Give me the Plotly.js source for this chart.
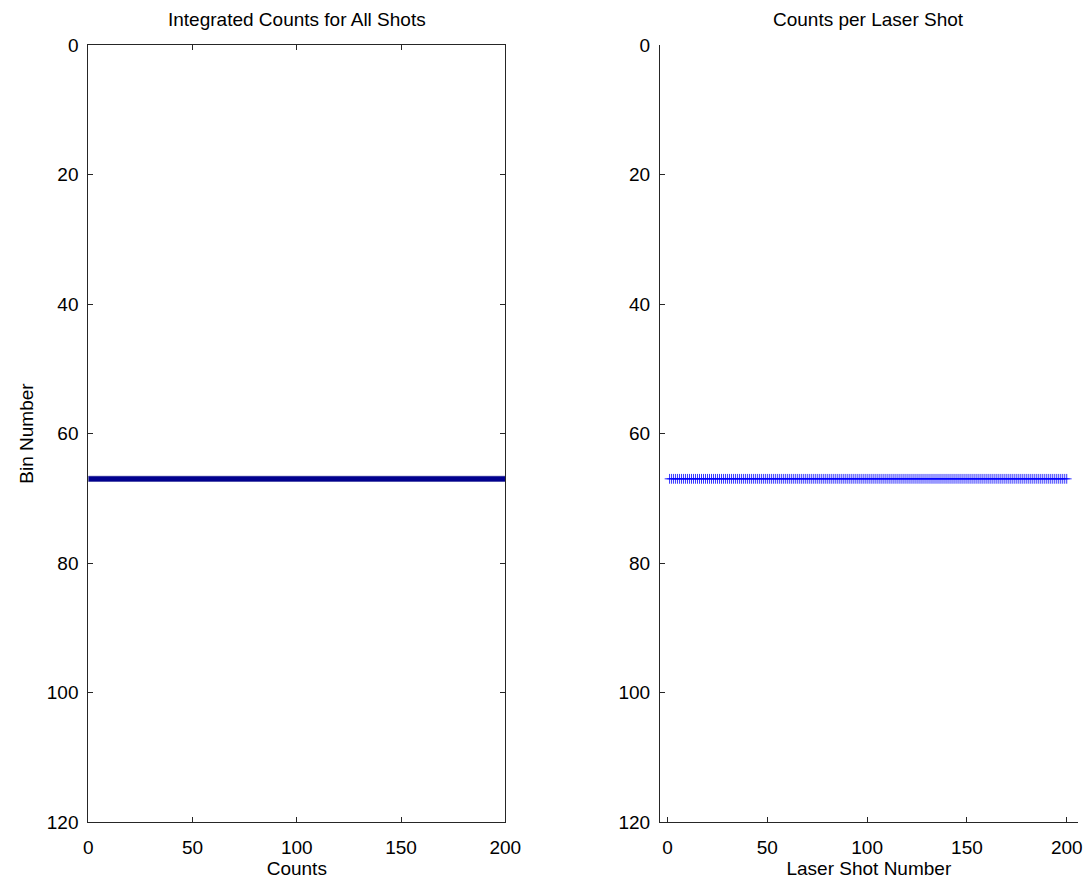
<!DOCTYPE html>
<html>
<head>
<meta charset="utf-8">
<script src="https://cdn.plot.ly/plotly-3.0.1.min.js"></script>
<style>html,body{margin:0;padding:0;background:#fff;}#chart{width:1089px;height:888px;}</style>
</head>
<body>
<div id="chart"></div>
<script>
// Left panel: integrated counts per bin (only bin 67 has counts)
const integratedBins = [67];
const integratedCounts = [200];

// Right panel: bin number hit on each laser shot
const shotNumbers = [1,2,3,4,5,6,7,8,9,10,11,12,13,14,15,16,17,18,19,20,21,22,23,24,25,26,27,28,29,30,31,32,33,34,35,36,37,38,39,40,41,42,43,44,45,46,47,48,49,50,51,52,53,54,55,56,57,58,59,60,61,62,63,64,65,66,67,68,69,70,71,72,73,74,75,76,77,78,79,80,81,82,83,84,85,86,87,88,89,90,91,92,93,94,95,96,97,98,99,100,101,102,103,104,105,106,107,108,109,110,111,112,113,114,115,116,117,118,119,120,121,122,123,124,125,126,127,128,129,130,131,132,133,134,135,136,137,138,139,140,141,142,143,144,145,146,147,148,149,150,151,152,153,154,155,156,157,158,159,160,161,162,163,164,165,166,167,168,169,170,171,172,173,174,175,176,177,178,179,180,181,182,183,184,185,186,187,188,189,190,191,192,193,194,195,196,197,198,199,200];
const shotBins = [67,67,67,67,67,67,67,67,67,67,67,67,67,67,67,67,67,67,67,67,67,67,67,67,67,67,67,67,67,67,67,67,67,67,67,67,67,67,67,67,67,67,67,67,67,67,67,67,67,67,67,67,67,67,67,67,67,67,67,67,67,67,67,67,67,67,67,67,67,67,67,67,67,67,67,67,67,67,67,67,67,67,67,67,67,67,67,67,67,67,67,67,67,67,67,67,67,67,67,67,67,67,67,67,67,67,67,67,67,67,67,67,67,67,67,67,67,67,67,67,67,67,67,67,67,67,67,67,67,67,67,67,67,67,67,67,67,67,67,67,67,67,67,67,67,67,67,67,67,67,67,67,67,67,67,67,67,67,67,67,67,67,67,67,67,67,67,67,67,67,67,67,67,67,67,67,67,67,67,67,67,67,67,67,67,67,67,67,67,67,67,67,67,67,67,67,67,67,67,67];

const yTicks = [0,20,40,60,80,100,120];
const xTicks = [0,50,100,150,200];

const W = 1089, H = 888;
const fnt = {family: 'Liberation Sans, Arial, sans-serif', size: 19, color: '#000'};
const axColor = '#262626';

const traces = [
  {
    type: 'bar', orientation: 'h',
    x: integratedCounts, y: integratedBins,
    width: 0.8,
    marker: {color: '#00008f', line: {color: '#1a1a8a', width: 0.5}},
    xaxis: 'x', yaxis: 'y', hoverinfo: 'x+y'
  },
  {
    type: 'scatter', mode: 'markers',
    x: shotNumbers, y: shotBins,
    marker: {symbol: 'cross-thin-open', size: 7, line: {color: '#0000ff', width: 1}, color: '#0000ff', opacity: 0.8},
    xaxis: 'x2', yaxis: 'y2'
  }
];

const yDom = [1 - 822/H, 1 - 45/H];
const baseY = {
  range: [120, 0], tickvals: yTicks, ticks: 'inside', ticklen: 5, tickcolor: axColor,
  showline: true, linecolor: axColor, linewidth: 1, showgrid: false, zeroline: false,
  tickfont: fnt, domain: yDom, ticklabelstandoff: 5
};
const baseX = {
  tickvals: xTicks, ticks: 'inside', ticklen: 5, tickcolor: axColor,
  showline: true, linecolor: axColor, linewidth: 1, showgrid: false, zeroline: false,
  tickfont: fnt, ticklabelstandoff: 8
};

const layout = {
  width: W, height: H,
  margin: {l: 0, r: 0, t: 0, b: 0},
  paper_bgcolor: '#fff', plot_bgcolor: '#fff',
  showlegend: false,
  font: fnt,
  xaxis: Object.assign({}, baseX, {
    domain: [88.3/W, 505.3/W], range: [0, 200], anchor: 'y', mirror: 'ticks',
    title: {text: 'Counts', font: fnt, standoff: 3}
  }),
  yaxis: Object.assign({}, baseY, {
    anchor: 'x', mirror: 'ticks',
    title: {text: 'Bin Number', font: fnt, standoff: 8}
  }),
  xaxis2: Object.assign({}, baseX, {
    domain: [660/W, 1077.7/W], range: [-3.8, 205.5], anchor: 'y2',
    title: {text: 'Laser Shot Number', font: fnt, standoff: 3}
  }),
  yaxis2: Object.assign({}, baseY, {anchor: 'x2'}),
  annotations: [
    {text: 'Integrated Counts for All Shots', xref: 'paper', yref: 'paper',
     x: (88.3 + 505.3)/2/W, y: 1 - 20/H, xanchor: 'center', yanchor: 'middle', showarrow: false, font: fnt},
    {text: 'Counts per Laser Shot', xref: 'paper', yref: 'paper',
     x: (660 + 1077.7)/2/W, y: 1 - 20/H, xanchor: 'center', yanchor: 'middle', showarrow: false, font: fnt}
  ]
};

Plotly.newPlot('chart', traces, layout, {displayModeBar: false, staticPlot: true});
</script>
</body>
</html>
